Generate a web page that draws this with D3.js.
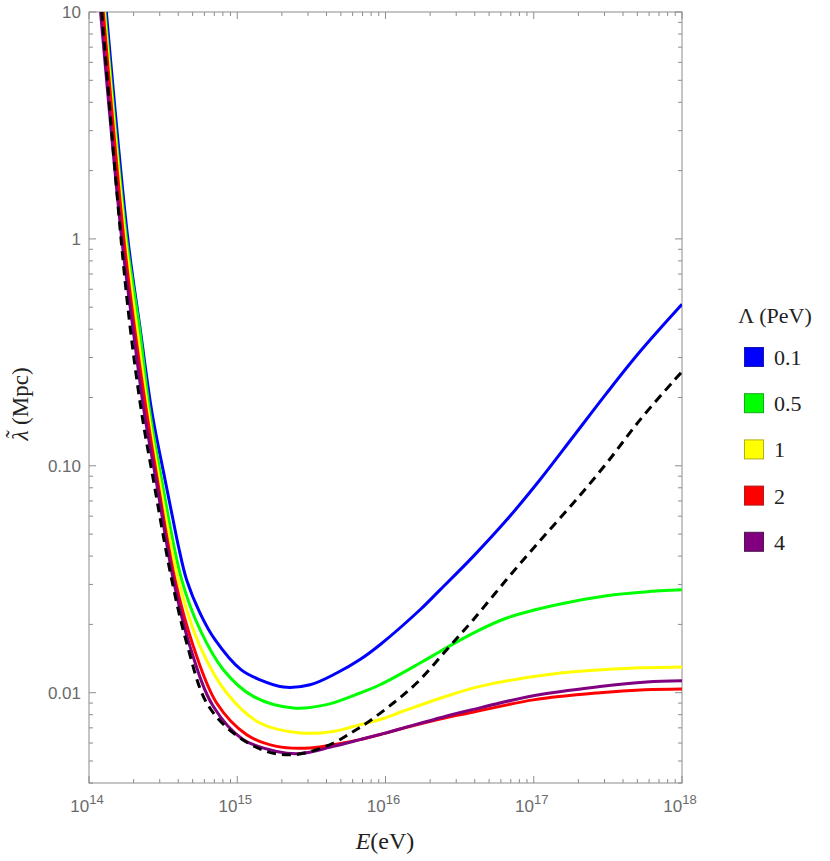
<!DOCTYPE html>
<html>
<head>
<meta charset="utf-8">
<script src="https://cdn.jsdelivr.net/npm/d3@7"></script>
<style>
  html, body { margin: 0; padding: 0; background: #fff; }
  svg { display: block; }
  .tick-text { font-family: "Liberation Sans", Arial, sans-serif; }
  .serif { font-family: "Liberation Serif", "Times New Roman", serif; }
</style>
</head>
<body>
<svg id="chart" width="830" height="861"></svg>
<script>
// ---------- DATA (log10 E [eV], λ̃ [Mpc]) ----------
const legendLabels = ["0.1", "0.5", "1", "2", "4"];
const seriesColors = ["#0000ff", "#00ff00", "#ffff00", "#ff0000", "#800080"];
const swatchBorders = ["#1a1aa8", "#1aa81a", "#b0b01a", "#b01a1a", "#4d1a4d"];

const lambda01 = [[14.117,10],[14.262,1],[14.343,0.411],[14.425,0.1713],[14.513,0.0868],[14.567,0.0578],[14.604,0.044],
  [14.658,0.0315],[14.749,0.02244],[14.850,0.01712],[15.025,0.01263],[15.153,0.0114],[15.311,0.01059],[15.491,0.01084],
  [15.671,0.01221],[15.828,0.0140],[15.963,0.01627],[16.233,0.0232],[16.368,0.0284],[16.592,0.0399],[16.818,0.0578],
  [17.042,0.0868],[17.267,0.1346],[17.492,0.2091],[17.717,0.3188],[18,0.515]];
const lambda05 = [[14.108,10],[14.253,1],[14.339,0.411],[14.411,0.1713],[14.490,0.0868],[14.625,0.0315],[14.749,0.01895],
  [14.906,0.01263],[15.108,0.00963],[15.378,0.00856],[15.603,0.00886],[15.828,0.00997],[15.963,0.01084],[16.233,0.01351],
  [16.368,0.0152],[16.592,0.01832],[16.818,0.02134],[17.155,0.02442],[17.492,0.02675],[17.75,0.0278],[18,0.0284]];
const lambda1 = [[14.103,10],[14.245,1],[14.322,0.411],[14.400,0.1713],[14.474,0.0868],[14.602,0.0315],[14.749,0.0160],
  [14.929,0.00997],[15.153,0.00735],[15.423,0.00665],[15.648,0.00675],[15.828,0.00723],[15.985,0.0077],[16.098,0.0082],
  [16.188,0.0086],[16.40,0.0096],[16.637,0.01066],[17.087,0.0120],[17.537,0.01272],[18,0.01298]];
const lambda2 = [[14.096,10],[14.235,1],[14.306,0.411],[14.389,0.1713],[14.461,0.0868],[14.580,0.0315],[14.704,0.0160],
  [14.861,0.00901],[15.064,0.00653],[15.266,0.0058],[15.491,0.00571],[15.715,0.0060],[15.828,0.00621],[15.985,0.0066],
  [16.098,0.00692],[16.413,0.00778],[16.548,0.0081],[16.997,0.0093],[17.447,0.0100],[17.75,0.0103],[18,0.01038]];
const lambda4 = [[14.078,10],[14.221,1],[14.295,0.411],[14.373,0.1713],[14.452,0.0868],[14.569,0.0315],[14.681,0.0160],
  [14.838,0.00871],[15.041,0.00621],[15.266,0.00551],[15.423,0.00539],[15.648,0.0058],[15.828,0.00621],[15.985,0.0066],
  [16.098,0.00692],[16.413,0.0079],[16.548,0.0083],[16.997,0.0097],[17.447,0.01065],[17.762,0.01115],[18,0.01129]];
const lambdaNoCut = [[14.086,10],[14.216,1],[14.277,0.411],[14.355,0.1713],[14.434,0.0868],[14.558,0.0315],[14.659,0.01656],
  [14.794,0.00901],[14.973,0.00665],[15.199,0.00551],[15.378,0.00533],[15.536,0.00561],[15.671,0.0061],[15.783,0.00675],
  [15.873,0.00735],[16.053,0.00901],[16.21,0.01103],[16.413,0.01547],[16.592,0.02098],[16.818,0.0316],[17.042,0.0468],
  [17.267,0.0685],[17.492,0.1028],[17.717,0.1594],[17.941,0.2355],[18,0.26]];

const xTickExponents = [14, 15, 16, 17, 18];
const yTickValues = [10, 1, 0.1, 0.01];
const yTickLabels = ["10", "1", "0.10", "0.01"];

// ---------- LAYOUT ----------
const svg = d3.select("#chart");
const L = 89, R = 682, T = 12, B = 783;
const x = d3.scaleLog().domain([1e14, 1e18]).range([L, R]);
const y = d3.scaleLog().domain([0.004, 10]).range([B, T]);
const frameColor = "#8c8c8c";
const tickTextColor = "#6a6a6a";

svg.append("defs").append("clipPath").attr("id", "plotclip")
  .append("rect").attr("x", L).attr("y", T).attr("width", R - L).attr("height", B - T);

// ticks
const xMinor = [];
for (let k = 14; k < 18; k++) for (let m = 2; m <= 9; m++) xMinor.push(m * Math.pow(10, k));
const yMinor = [];
for (let k = -3; k < 1; k++) for (let m = 2; m <= 9; m++) {
  const v = m * Math.pow(10, k);
  if (v >= 0.004 && v <= 10) yMinor.push(v);
}
const tg = svg.append("g").attr("stroke", frameColor).attr("stroke-width", 1);
function xt(v, len) {
  const px = x(v);
  tg.append("line").attr("x1", px).attr("x2", px).attr("y1", B).attr("y2", B - len);
  tg.append("line").attr("x1", px).attr("x2", px).attr("y1", T).attr("y2", T + len);
}
function yt(v, len) {
  const py = y(v);
  tg.append("line").attr("x1", L).attr("x2", L + len).attr("y1", py).attr("y2", py);
  tg.append("line").attr("x1", R).attr("x2", R - len).attr("y1", py).attr("y2", py);
}
xMinor.forEach(v => xt(v, 4));
xTickExponents.forEach(e => xt(Math.pow(10, e), 7));
yMinor.forEach(v => yt(v, 4));
yTickValues.forEach(v => yt(v, 7));

svg.append("rect").attr("x", L).attr("y", T).attr("width", R - L).attr("height", B - T)
  .attr("fill", "none").attr("stroke", frameColor).attr("stroke-width", 1);

// tick labels
const xl = svg.append("g").attr("class", "tick-text").attr("fill", tickTextColor);
xTickExponents.forEach(e => {
  const t = xl.append("text").attr("x", x(Math.pow(10, e)) - 2).attr("y", 812)
    .attr("text-anchor", "middle").attr("font-size", 17);
  t.append("tspan").text("10");
  t.append("tspan").attr("dy", -8).attr("font-size", 13).text(String(e));
});
yTickValues.forEach((v, i) => {
  xl.append("text").attr("x", 81).attr("y", y(v) + 6).attr("text-anchor", "end")
    .attr("font-size", 17).text(yTickLabels[i]);
});

// axis titles
const xtitle = svg.append("text").attr("class", "serif").attr("x", 385).attr("y", 849)
  .attr("text-anchor", "middle").attr("font-size", 24).attr("fill", "#222");
xtitle.append("tspan").attr("font-style", "italic").text("E");
xtitle.append("tspan").text("(eV)");

const yg = svg.append("g").attr("class", "serif").attr("transform", "translate(28,404) rotate(-90)")
  .attr("fill", "#222").attr("font-size", 23);
const ytext = yg.append("text").attr("text-anchor", "middle");
ytext.append("tspan").attr("font-style", "italic").text("λ");
ytext.append("tspan").text(" (Mpc)");
const lamBox = ytext.node().getExtentOfChar(0);
yg.append("text").attr("text-anchor", "middle")
  .attr("x", lamBox.x + lamBox.width / 2 + 1.5).attr("y", -6).text("\u02DC");

// curves
const line = d3.line()
  .x(d => x(Math.pow(10, d[0])))
  .y(d => y(d[1]))
  .curve(d3.curveCatmullRom.alpha(0.5));
const plot = svg.append("g").attr("clip-path", "url(#plotclip)");
const coloredSeries = [lambda01, lambda05, lambda1, lambda2, lambda4];
coloredSeries.forEach((s, i) => {
  plot.append("path").datum(s).attr("d", line).attr("fill", "none")
    .attr("stroke", seriesColors[i]).attr("stroke-width", 3).attr("stroke-linejoin", "round");
});
plot.append("path").datum(lambdaNoCut).attr("d", line).attr("fill", "none")
  .attr("stroke", "#000").attr("stroke-width", 3).attr("stroke-dasharray", "9,6");

// legend
const lg = svg.append("g").attr("class", "serif").attr("fill", "#222");
lg.append("text").attr("x", 775).attr("y", 323).attr("text-anchor", "middle")
  .attr("font-size", 22).text("Λ (PeV)");
legendLabels.forEach((lab, i) => {
  const cy = 357 + i * 46.2;
  lg.append("rect").attr("x", 744.5).attr("y", cy - 9.5).attr("width", 19).attr("height", 19)
    .attr("fill", seriesColors[i]).attr("stroke", swatchBorders[i]).attr("stroke-width", 1);
  lg.append("text").attr("x", 774).attr("y", cy + 8).attr("font-size", 22).text(lab);
});
</script>
</body>
</html>
